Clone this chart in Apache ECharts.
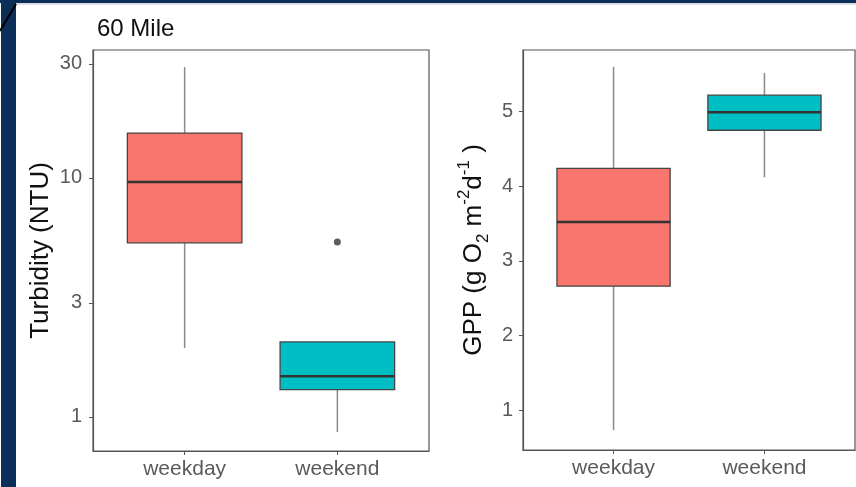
<!DOCTYPE html>
<html><head><meta charset="utf-8">
<script src="https://cdn.jsdelivr.net/npm/echarts@6/dist/echarts.min.js"></script>
<style>html,body{margin:0;padding:0;background:#fff}#c{width:856px;height:487px}</style>
</head><body><div id="c"></div>
<script>
// ---- data ----
const categories = ['weekday', 'weekend'];
const turbidityWeekday = [1.94, 5.35, 9.62, 15.4, 29.1];   // min, Q1, median, Q3, max
const turbidityWeekend = [0.865, 1.30, 1.48, 2.06, 2.06];
const turbidityOutliers = [[2, 5.4]];
const gppWeekday = [0.73, 2.66, 3.52, 4.24, 5.60];
const gppWeekend = [4.12, 4.75, 4.99, 5.22, 5.52];
const turbidityTicks = [1, 3, 10, 30];
const gppTicks = [1, 2, 3, 4, 5];
const categoryTicks = [1, 2];
const panelTitle = '60 Mile';

// ---- styling ----
const FONT = '"Liberation Sans", Arial, Helvetica, sans-serif';
const fills = ['#F8766D', '#00BFC4'];
const axisGray = '#555555';
const tickGray = '#5a5a5a';

const chart = echarts.init(document.getElementById('c'), null, {renderer: 'canvas'});

function renderBox(params, api) {
  const x = api.value(0);
  const v = [1, 2, 3, 4, 5].map(i => api.value(i));
  const pMin = api.coord([x, v[0]]);
  const pQ1 = api.coord([x, v[1]]);
  const pMed = api.coord([x, v[2]]);
  const pQ3 = api.coord([x, v[3]]);
  const pMax = api.coord([x, v[4]]);
  const left = api.coord([x - 0.375, v[2]])[0];
  const right = api.coord([x + 0.375, v[2]])[0];
  const cx = pMed[0];
  const wStyle = {stroke: '#8a8a8a', lineWidth: 1.5};
  return {
    type: 'group',
    children: [
      {type: 'line', shape: {x1: cx, y1: pQ1[1], x2: cx, y2: pMin[1]}, style: wStyle},
      {type: 'line', shape: {x1: cx, y1: pQ3[1], x2: cx, y2: pMax[1]}, style: wStyle},
      {type: 'rect', shape: {x: left, y: pQ3[1], width: right - left, height: pQ1[1] - pQ3[1]},
        style: {fill: fills[params.dataIndex], stroke: '#454545', lineWidth: 1.3}},
      {type: 'line', shape: {x1: left, y1: pMed[1], x2: right, y2: pMed[1]},
        style: {stroke: '#333333', lineWidth: 2.5}}
    ]
  };
}

function xAxisFor(gridIndex) {
  return {
    type: 'value', gridIndex, min: 0.4, max: 2.6,
    axisLine: {show: true, onZero: false, lineStyle: {color: axisGray, width: 1.2}},
    axisTick: {show: true, length: 4, customValues: categoryTicks, lineStyle: {color: axisGray}},
    axisLabel: {customValues: categoryTicks, fontSize: 21, color: tickGray, margin: 8, fontFamily: FONT,
      formatter: v => categories[Math.round(v) - 1]},
    splitLine: {show: false}
  };
}

const option = {
  backgroundColor: '#ffffff',
  animation: false,
  title: {
    text: panelTitle, left: 92, top: 12,
    textStyle: {fontSize: 24, fontWeight: 'normal', color: '#111111', fontFamily: FONT}
  },
  graphic: [
    {type: 'rect', left: 1, top: 0, shape: {width: 15, height: 487}, style: {fill: '#0b2f58'}},
    {type: 'rect', left: 0, top: 0, shape: {width: 856, height: 3}, style: {fill: '#0b2f58'}},
    {type: 'rect', left: 16, top: 3, shape: {width: 840, height: 2}, style: {fill: '#d9dde3'}},
    {type: 'line', shape: {x1: 0, y1: 31, x2: 16, y2: 4}, style: {stroke: '#000', lineWidth: 2}}
  ],
  grid: [
    {left: 93, right: 427, top: 50, bottom: 36, show: true, borderColor: axisGray, borderWidth: 1.2, backgroundColor: '#fff'},
    {left: 523, right: 1, top: 50, bottom: 37, show: true, borderColor: axisGray, borderWidth: 1.2, backgroundColor: '#fff'}
  ],
  xAxis: [xAxisFor(0), xAxisFor(1)],
  yAxis: [
    {
      type: 'log', logBase: 10, gridIndex: 0, min: 0.72, max: 34.3,
      name: 'Turbidity (NTU)', nameLocation: 'middle', nameGap: 39,
      nameTextStyle: {fontSize: 26, color: '#111111', fontFamily: FONT},
      axisLine: {show: true, lineStyle: {color: axisGray, width: 1.2}},
      axisTick: {show: true, length: 4, customValues: turbidityTicks, lineStyle: {color: axisGray}},
      axisLabel: {customValues: turbidityTicks, fontSize: 20, color: tickGray, margin: 11, fontFamily: FONT,
        formatter: v => String(Math.round(v))},
      splitLine: {show: false}
    },
    {
      type: 'value', gridIndex: 1, min: 0.464, max: 5.826,
      name: '{a|GPP (g O}{sub|2}{a| m}{sup|-2}{a|d}{sup|-1}{a| )}',
      nameLocation: 'middle', nameGap: 31,
      nameTextStyle: {fontSize: 26, color: '#111111', fontFamily: FONT,
        rich: {
          a: {fontSize: 26, color: '#111111', fontFamily: FONT, lineHeight: 36},
          sub: {fontSize: 17, color: '#111111', fontFamily: FONT, verticalAlign: 'bottom', lineHeight: 36},
          sup: {fontSize: 17, color: '#111111', fontFamily: FONT, verticalAlign: 'top', lineHeight: 36}
        }},
      axisLine: {show: true, lineStyle: {color: axisGray, width: 1.2}},
      axisTick: {show: true, length: 4, customValues: gppTicks, lineStyle: {color: axisGray}},
      axisLabel: {customValues: gppTicks, fontSize: 20, color: tickGray, margin: 10, fontFamily: FONT},
      splitLine: {show: false}
    }
  ],
  series: [
    {
      type: 'custom', xAxisIndex: 0, yAxisIndex: 0, renderItem: renderBox,
      encode: {x: 0, y: [1, 2, 3, 4, 5]},
      data: [[1, ...turbidityWeekday], [2, ...turbidityWeekend]]
    },
    {
      type: 'scatter', xAxisIndex: 0, yAxisIndex: 0, symbolSize: 7,
      itemStyle: {color: '#333333'}, data: turbidityOutliers
    },
    {
      type: 'custom', xAxisIndex: 1, yAxisIndex: 1, renderItem: renderBox,
      encode: {x: 0, y: [1, 2, 3, 4, 5]},
      data: [[1, ...gppWeekday], [2, ...gppWeekend]]
    }
  ]
};
chart.setOption(option);
</script>
</body></html>
